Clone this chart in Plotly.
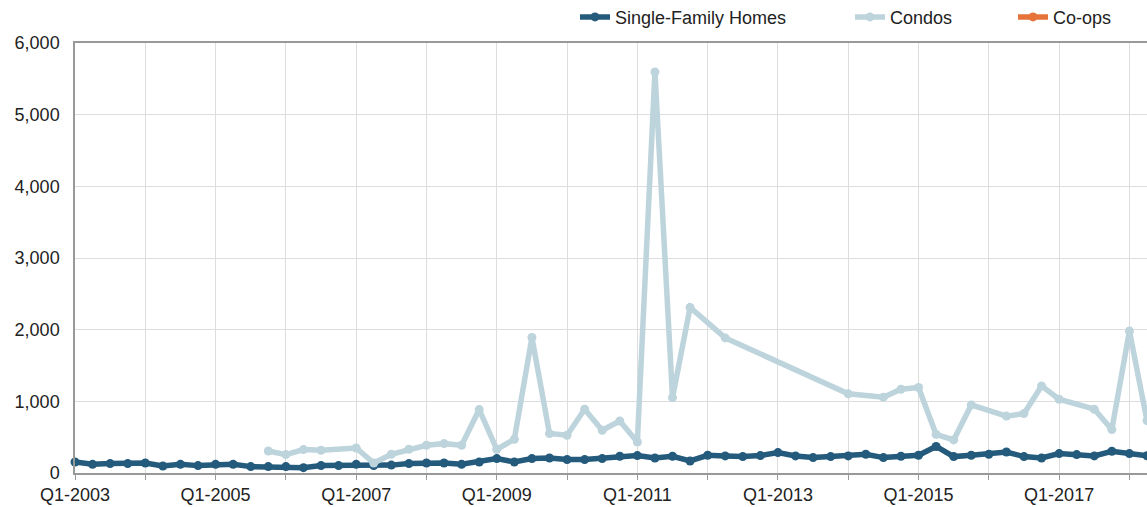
import plotly.graph_objects as go

quarters = [f"Q{q}-{y}" for y in range(2003, 2019) for q in range(1, 5)][:62]

single_family = [154, 121, 131, 131, 140, 98, 121, 103, 121, 121, 89, 89, 89, 75, 103, 103,
                 121, 103, 110, 131, 140, 140, 121, 154, 201, 154, 201, 210, 187, 187, 201, 233,
                 243, 210, 233, 168, 247, 238, 229, 243, 285, 238, 215, 229, 238, 261, 215, 233,
                 247, 370, 229, 247, 261, 293, 229, 210, 271, 257, 238, 303, 271, 240]

condos = [None] * 11 + [307, 257, 327, 317, None, 349, 140, 261, 331, 387, 410, 387, 885, 331, 471,
                        1891, 550, 527, 890, 596, 726, 433, 5596, 1052, 2310, None, 1885,
                        None, None, None, None, None, None, 1105, None, 1058, 1169, 1193, 538, 462,
                        950, None, 794, 829, 1215, 1029, None, 890, 606, 1981, 730]

coops = [None] * 62

tick_vals = quarters[::4]
tick_text = [q if i % 2 == 0 else "" for i, q in enumerate(tick_vals)]

FONT = "Liberation Sans, Arial, Helvetica, sans-serif"

fig = go.Figure()
series = [
    ("Single-Family Homes", single_family, "#245a7b", "legend"),
    ("Condos", condos, "#bdd4dc", "legend2"),
    ("Co-ops", coops, "#e6743a", "legend3"),
]
for name, vals, color, leg in series:
    fig.add_trace(go.Scatter(
        x=quarters, y=vals, name=name, mode="lines+markers",
        line=dict(color=color, width=5.5), marker=dict(color=color, size=9),
        connectgaps=True, cliponaxis=False, legend=leg, showlegend=True,
    ))

W, L, R = 1147, 75, 0
pw = W - L - R

def lx(px):
    return (px - L) / pw

leg_common = dict(orientation="h", yanchor="middle", y=1.06, xanchor="left",
                  font=dict(family=FONT, size=18, color="#222"), bgcolor="rgba(0,0,0,0)")
fig.update_layout(
    width=W, height=507,
    margin=dict(l=L, r=R, t=43, b=34, autoexpand=False),
    plot_bgcolor="white", paper_bgcolor="white",
    font=dict(family=FONT, size=18, color="#222"),
    showlegend=True,
    legend=dict(x=lx(575), **leg_common),
    legend2=dict(x=lx(850), **leg_common),
    legend3=dict(x=lx(1013), **leg_common),
    xaxis=dict(
        type="category", range=[0, 61], tickmode="array", tickvals=tick_vals, ticktext=tick_text,
        showgrid=True, gridcolor="#dddddd", gridwidth=1,
        showline=True, linecolor="#999999", linewidth=1.5, mirror=True,
        ticks="outside", ticklen=5, tickcolor="#999999", tickangle=0,
        tickfont=dict(family=FONT, size=18, color="#222"), automargin=False,
    ),
    yaxis=dict(
        range=[0, 6000], tickvals=[0, 1000, 2000, 3000, 4000, 5000, 6000], tickformat=",",
        showgrid=True, gridcolor="#dddddd", gridwidth=1, zeroline=False,
        showline=True, linecolor="#999999", linewidth=1.5, mirror=True,
        ticks="", ticklabelstandoff=10,
        tickfont=dict(family=FONT, size=18, color="#222"), automargin=False,
    ),
)

fig.write_html(
    "out.html",
    config={"displayModeBar": False},
    post_script="document.body.style.margin='0';document.body.style.overflow='hidden';",
)
